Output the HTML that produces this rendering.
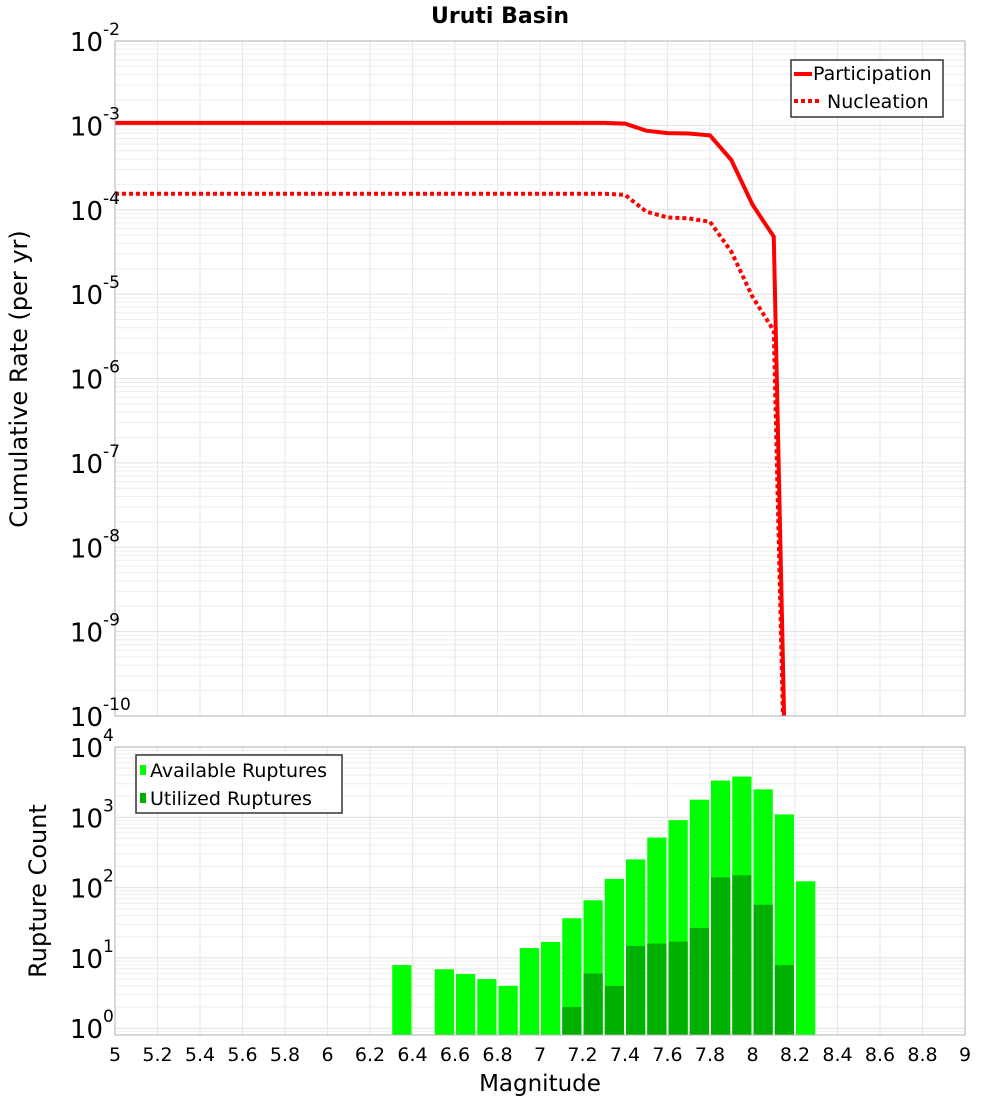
<!DOCTYPE html>
<html><head><meta charset="utf-8"><style>
html,body{margin:0;padding:0;background:#fff;overflow:hidden;width:1000px;height:1100px;}
svg{display:block;font-family:"DejaVu Sans","Liberation Sans",sans-serif;}
</style></head><body>
<svg id="c" width="1000" height="1100"></svg>
<script>
const xTicks=[5,5.2,5.4,5.6,5.8,6,6.2,6.4,6.6,6.8,7,7.2,7.4,7.6,7.8,8,8.2,8.4,8.6,8.8,9];
const xTickLabels=["5","5.2","5.4","5.6","5.8","6","6.2","6.4","6.6","6.8","7","7.2","7.4","7.6","7.8","8","8.2","8.4","8.6","8.8","9"];
const topExps=[-2,-3,-4,-5,-6,-7,-8,-9,-10];
const botExps=[4,3,2,1,0];
const rateMags=[5.0,7.3,7.4,7.5,7.6,7.7,7.8,7.9,8.0,8.1,8.2];
const participation=[1.07e-3,1.07e-3,1.05e-3,8.65e-4,8.1e-4,8.0e-4,7.6e-4,3.9e-4,1.15e-4,4.8e-5,1e-16];
const nucleation=[1.55e-4,1.55e-4,1.5e-4,9.5e-5,8.1e-5,7.9e-5,7.2e-5,3.2e-5,9.3e-6,3.7e-6,1e-16];
const binMags=[6.3,6.5,6.6,6.7,6.8,6.9,7.0,7.1,7.2,7.3,7.4,7.5,7.6,7.7,7.8,7.9,8.0,8.1,8.2];
const available=[7.9,6.9,5.9,5.0,4.0,13.8,16.9,36.7,66,133,252,515,910,1780,3330,3800,2500,1100,123];
const utilized=[0,0,0,0,0,0,0,2.0,6.0,4.0,14.8,16,17,26.7,140,150,57,7.9,0];

const NS="http://www.w3.org/2000/svg";
const svg=document.getElementById('c');
function mk(tag,attrs,parent){const e=document.createElementNS(NS,tag);for(const k in attrs)e.setAttribute(k,attrs[k]);(parent||svg).appendChild(e);return e;}
const L=115,R=965;
const X=m=>L+(m-5)/4*(R-L);
const T0=41,T1=716;
const Yt=v=>T0+(-2-Math.log10(v))*(T1-T0)/8;
const B0=747,B1=1035,BD=70.3;
const Yb=v=>B0+(4-Math.log10(v))*BD;

const defs=mk('defs',{});
const cp1=mk('clipPath',{id:'cpt'},defs);mk('rect',{x:L,y:T0,width:R-L,height:T1-T0},cp1);
const cp2=mk('clipPath',{id:'cpb'},defs);mk('rect',{x:L,y:B0,width:R-L,height:B1-B0},cp2);

function grid(top,bot,yf,exps){
  const g=mk('g',{});
  
  
  xTicks.forEach(t=>{mk('line',{x1:X(t),x2:X(t),y1:top,y2:bot,stroke:'#e6e6e6','stroke-width':1},g);});
  for(let i=0;i<exps.length;i++){
    const e=exps[i];
    for(let k=1;k<=9;k++){
      const y=yf(k*Math.pow(10,e));
      if(y>=top-0.5&&y<=bot+0.5)mk('line',{x1:L,x2:R,y1:y,y2:y,stroke:k==1?'#e0e0e0':'#eeeeee','stroke-width':1},g);
    }
  }
}
grid(T0,T1,Yt,topExps);
grid(B0,B1,Yb,[4,3,2,1,0,-1]);

const title=mk('text',{x:500,y:23,'text-anchor':'middle','font-size':22,'font-weight':'bold'});
title.textContent='Uruti Basin';



function line(vals,dash,name){
  const pts=rateMags.map((m,i)=>X(m)+','+Yt(vals[i])).join(' ');
  const p=mk('polyline',{points:pts,fill:'none',stroke:'#ff0000','stroke-width':4,'clip-path':'url(#cpt)','stroke-dasharray':dash?'4,3':'none'});
  
  
}
line(participation,false,'participation-line');
line(nucleation,true,'nucleation-line');

const bw=X(5.1)-X(5);
binMags.forEach((m,i)=>{
  const x=X(m)+1,w=bw-2;
  if(available[i]>0){
    const y=Yb(available[i]);
    const r=mk('rect',{x:x,y:y,width:w,height:B1-y,fill:'#00ff00','clip-path':'url(#cpb)'});
    
    
  }
  if(utilized[i]>0){
    const y=Yb(utilized[i]);
    const r=mk('rect',{x:x,y:y,width:w,height:B1-y,fill:'#00b000','clip-path':'url(#cpb)'});
    
    
  }
});

mk('rect',{x:L,y:T0,width:R-L,height:T1-T0,fill:'none',stroke:'#b0b0b0'});
mk('rect',{x:L,y:B0,width:R-L,height:B1-B0,fill:'none',stroke:'#b0b0b0'});

function ylab(y,e,name){
  const t=mk('text',{x:103,y:y+10,'text-anchor':'end','font-size':26});
  t.textContent='10';
  
  
  const s=mk('text',{x:103,y:y-6,'text-anchor':'start','font-size':17});
  s.textContent=String(e);
  
  
}
topExps.forEach(e=>ylab(Yt(Math.pow(10,e)),e,'top-y-tick'));
botExps.forEach(e=>ylab(Yb(Math.pow(10,e)),e,'bottom-y-tick'));

xTicks.forEach((t,i)=>{
  const tx=mk('text',{x:X(t),y:1061,'text-anchor':'middle','font-size':19});
  tx.textContent=xTickLabels[i];
  
  
});
const xt=mk('text',{x:540,y:1091,'text-anchor':'middle','font-size':23});
xt.textContent='Magnitude';


const yt1=mk('text',{x:0,y:0,'text-anchor':'middle','font-size':24,transform:'translate(27,379) rotate(-90)'});
yt1.textContent='Cumulative Rate (per yr)';


const yt2=mk('text',{x:0,y:0,'text-anchor':'middle','font-size':24,transform:'translate(46,891) rotate(-90)'});
yt2.textContent='Rupture Count';



const lg1=mk('g',{});


mk('rect',{x:791,y:60,width:152,height:57,fill:'#fff',stroke:'#333','stroke-width':1.5},lg1);
mk('line',{x1:794,x2:812,y1:74,y2:74,stroke:'#f00','stroke-width':4},lg1);
mk('line',{x1:794,x2:822,y1:101,y2:101,stroke:'#f00','stroke-width':4,'stroke-dasharray':'4,3'},lg1);
let t=mk('text',{x:813,y:80,'font-size':19},lg1);t.textContent='Participation';
t=mk('text',{x:827,y:108,'font-size':19},lg1);t.textContent='Nucleation';

const lg2=mk('g',{});


mk('rect',{x:136,y:755,width:206,height:58,fill:'#fff',stroke:'#333','stroke-width':1.5},lg2);
mk('rect',{x:140,y:765,width:6,height:10,fill:'#00ff00'},lg2);
mk('rect',{x:140,y:793,width:6,height:10,fill:'#00b000'},lg2);
t=mk('text',{x:150,y:777,'font-size':19},lg2);t.textContent='Available Ruptures';
t=mk('text',{x:150,y:805,'font-size':19},lg2);t.textContent='Utilized Ruptures';
</script>
</body></html>
